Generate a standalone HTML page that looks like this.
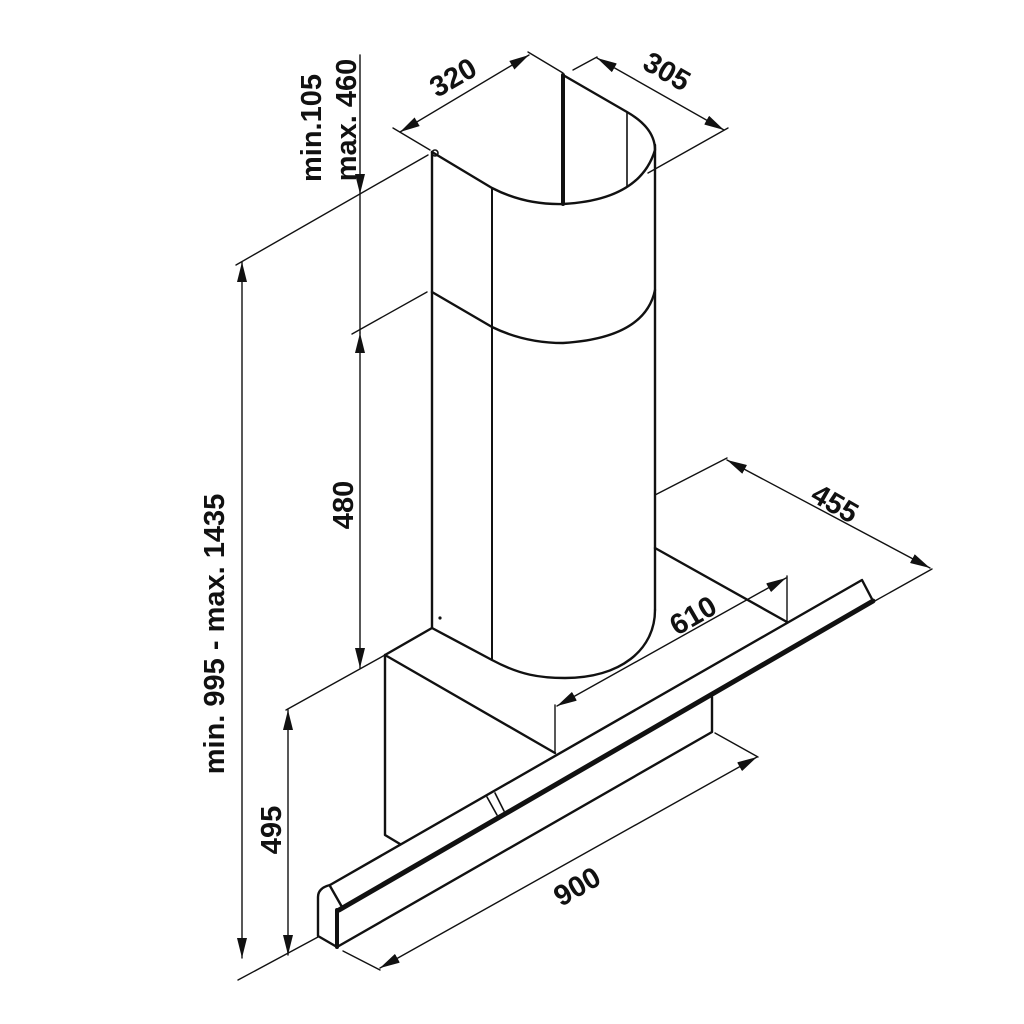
<!DOCTYPE html>
<html><head><meta charset="utf-8"><style>
html,body{margin:0;padding:0;background:#fff}
svg{display:block}
text{font-family:"Liberation Sans",Arial,sans-serif;font-weight:bold;fill:#111}
</style></head><body>
<svg width="1024" height="1024" viewBox="0 0 1024 1024" xmlns="http://www.w3.org/2000/svg">
<defs>
<marker id="a" viewBox="0 0 20 10" refX="20" refY="5" markerWidth="20" markerHeight="10" markerUnits="userSpaceOnUse" orient="auto-start-reverse">
<path d="M0,0 L20,5 L0,10 Z" fill="#111"/>
</marker>
</defs>
<g fill="none" stroke="#111" stroke-linecap="round" stroke-linejoin="round">
<g stroke-width="2.4">
<path d="M432,152 L432,628"/>
<path d="M655,145 L655,610"/>
<path d="M432,152 L492,188 Q525,205 563,204 Q640,200 655,150 Q655,128 627,112 L563,75"/>
<path d="M432,292 L492,327 Q525,343 563,343 Q645,338 655,290"/>
<path d="M432,628 L492,660 C520,675 540,678 565,678 C620,678 655,650 655,610"/>
<path d="M432,628 L385,655 L555,753"/>
<path d="M385,655 L385,835 L400,844"/>
<path d="M655,548 L787,622"/>
</g>
<path d="M563,75 L563,204" stroke-width="4"/>
<path d="M627,112 L627,186" stroke-width="1.6"/>
<path d="M492,188 L492,660" stroke-width="2"/>
<circle cx="440" cy="618" r="1.6" fill="#111" stroke="none"/>
<circle cx="435" cy="153" r="3" stroke-width="1.6"/>
<g stroke-width="2.4">
<path d="M330,885 L862,580 L873,601"/>
<path d="M330,885 Q318,888 318,897 L318,936 L337,947"/>
<path d="M330,886 L342,907"/>
<path d="M337,947 L712,732 L712,697"/>
<path d="M487,797 L497,815 M495,793 L504,811" stroke-width="1.6"/>
</g>
<path d="M339,910 L873,601" stroke-width="5"/>
<path d="M337,910 L337,947" stroke-width="4"/>
<g stroke-width="1.4">
<path d="M236,265 L428,155"/>
<path d="M352,334 L427,292"/>
<path d="M286,710 L385,655"/>
<path d="M238,980 L318,937"/>
<path d="M393,128 L430,150"/>
<path d="M528,52 L563,73"/>
<path d="M573,70 L597,57"/>
<path d="M648,173 L728,128"/>
<path d="M655,495 L727,458"/>
<path d="M932,569 L873,602"/>
<path d="M555,705 L555,753"/>
<path d="M787,576 L787,621"/>
<path d="M715,733 L758,757"/>
<path d="M343,951 L380,970"/>
<path d="M360,55 L360,194" marker-end="url(#a)"/>
<path d="M360,194 L360,333"/>
<path d="M360,333 L360,668" marker-start="url(#a)" marker-end="url(#a)"/>
<path d="M242,262 L242,958" marker-start="url(#a)" marker-end="url(#a)"/>
<path d="M288,710 L288,955" marker-start="url(#a)" marker-end="url(#a)"/>
<path d="M400,132 L529,55" marker-start="url(#a)" marker-end="url(#a)"/>
<path d="M597,58 L724,130" marker-start="url(#a)" marker-end="url(#a)"/>
<path d="M727,460 L930,568" marker-start="url(#a)" marker-end="url(#a)"/>
<path d="M557,706 L786,578" marker-start="url(#a)" marker-end="url(#a)"/>
<path d="M380,968 L757,757" marker-start="url(#a)" marker-end="url(#a)"/>
</g>
</g>
<g font-size="29">
<text transform="translate(224,634) rotate(-90)" text-anchor="middle" font-size="29">min. 995 - max. 1435</text>
<text transform="translate(321,128) rotate(-90)" text-anchor="middle">min.105</text>
<text transform="translate(356,120) rotate(-90)" text-anchor="middle">max. 460</text>
<text transform="translate(353,505) rotate(-90)" text-anchor="middle">480</text>
<text transform="translate(281,830) rotate(-90)" text-anchor="middle">495</text>
<text transform="translate(458,86) rotate(-30)" text-anchor="middle">320</text>
<text transform="translate(662,80) rotate(30)" text-anchor="middle">305</text>
<text transform="translate(830,512) rotate(30)" text-anchor="middle">455</text>
<text transform="translate(698,624) rotate(-30)" text-anchor="middle">610</text>
<text transform="translate(582,895) rotate(-30)" text-anchor="middle">900</text>
</g>
</svg>
</body></html>
